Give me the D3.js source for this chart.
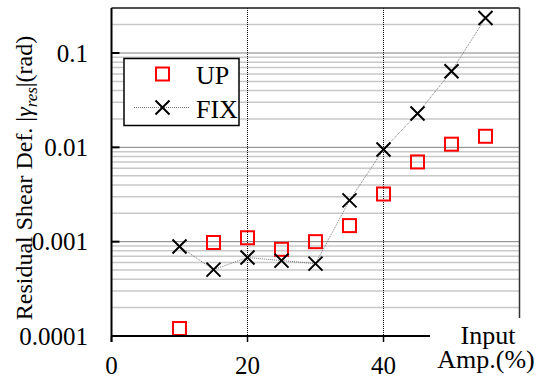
<!DOCTYPE html>
<html>
<head>
<meta charset="utf-8">
<script src="https://cdn.jsdelivr.net/npm/d3@7"></script>
<style>
  body { margin: 0; background: #fff; }
</style>
</head>
<body>
<script>
// input amplitude (%)
var amps = [10, 15, 20, 25, 30, 35, 40, 45, 50, 55];
// residual shear deformation (rad)
var upValues  = [0.00012, 0.00098, 0.0011, 0.00083, 0.001, 0.00148, 0.0032, 0.0070, 0.0108, 0.0131];
var fixValues = [0.00089, 0.000505, 0.00068, 0.00063, 0.000585, 0.00274, 0.0095, 0.0228, 0.064, 0.235];
var xTicks = [0, 20, 40];
var yTicks = [0.0001, 0.001, 0.01, 0.1];
var yTickLabels = ["0.0001", "0.001", "0.01", "0.1"];

const FONT = "'Liberation Serif', monospace";

const svg = d3.select("body").append("svg")
              .attr("width", 539)
              .attr("height", 380);

const x = d3.scaleLinear().domain([0, 60]).range([111.5, 519.5]);
const y = d3.scaleLog().domain([0.0001, 0.3]).range([336, 8]);

// minor grid (grey)
var minor = y.ticks().filter(function(v){
    return Math.abs(Math.log10(v) - Math.round(Math.log10(v))) > 1e-6;
});
svg.append("g").selectAll("line")
   .data(minor)
   .enter().append("line")
   .attr("x1", x(0)).attr("x2", x(60))
   .attr("y1", function(d){ return y(d) })
   .attr("y2", function(d){ return y(d) })
   .attr("stroke", "#c8c8c8")
   .attr("stroke-width", 1.5);

// major grid (black dotted)
svg.append("g").selectAll("line")
   .data(yTicks.slice(1))
   .enter().append("line")
   .attr("x1", x(0)).attr("x2", x(60))
   .attr("y1", function(d){ return y(d) })
   .attr("y2", function(d){ return y(d) })
   .attr("stroke", "#000")
   .attr("stroke-width", 1)
   .attr("stroke-dasharray", "1,1");

svg.append("g").selectAll("line")
   .data(xTicks.slice(1))
   .enter().append("line")
   .attr("x1", function(d){ return x(d) })
   .attr("x2", function(d){ return x(d) })
   .attr("y1", y(0.3)).attr("y2", y(0.0001))
   .attr("stroke", "#000")
   .attr("stroke-width", 1)
   .attr("stroke-dasharray", "1,1");

// frame
svg.append("line").attr("x1", x(0)).attr("x2", x(60)).attr("y1", y(0.3)).attr("y2", y(0.3))
   .attr("stroke", "#222").attr("stroke-width", 1.5);
svg.append("line").attr("x1", x(60)).attr("x2", x(60)).attr("y1", y(0.3)).attr("y2", y(0.0001))
   .attr("stroke", "#333").attr("stroke-width", 1.5);

// FIX dotted line
svg.append("path")
   .datum(amps)
   .attr("fill", "none")
   .attr("stroke", "#777")
   .attr("stroke-width", 1)
   .attr("stroke-dasharray", "1,1")
   .attr("d", d3.line()
       .x(function(d){ return x(d) })
       .y(function(d, i){ return y(fixValues[i]) }));

// UP squares
svg.append("g").selectAll("rect")
   .data(amps)
   .enter().append("rect")
   .attr("x", function(d){ return x(d) - 6.5 })
   .attr("y", function(d, i){ return y(upValues[i]) - 6.5 })
   .attr("width", 13).attr("height", 13)
   .attr("fill", "none")
   .attr("stroke", "#f00")
   .attr("stroke-width", 2);

// FIX crosses
var cross = "M-7,-7L7,7M-7,7L7,-7";
svg.append("g").selectAll("path")
   .data(amps)
   .enter().append("path")
   .attr("transform", function(d, i){ return "translate(" + x(d) + "," + y(fixValues[i]) + ")" })
   .attr("d", cross)
   .attr("stroke", "#000")
   .attr("stroke-width", 2);

// y axis
svg.append("line").attr("x1", x(0)).attr("x2", x(0)).attr("y1", y(0.3)).attr("y2", y(0.0001) + 6)
   .attr("stroke", "#000").attr("stroke-width", 2);
svg.append("g").selectAll("line")
   .data(yTicks)
   .enter().append("line")
   .attr("x1", x(0)).attr("x2", x(0) + 8)
   .attr("y1", function(d){ return y(d) })
   .attr("y2", function(d){ return y(d) })
   .attr("stroke", "#000").attr("stroke-width", 2);
svg.append("g").selectAll("text")
   .data(yTicks)
   .enter().append("text")
   .attr("x", 88)
   .attr("y", function(d){ return y(d) + 8.5 })
   .attr("text-anchor", "end")
   .attr("font-family", FONT)
   .attr("font-size", 25)
   .text(function(d, i){ return yTickLabels[i] });

// x axis (cut short by the label box)
svg.append("line").attr("x1", x(0)).attr("x2", 430).attr("y1", y(0.0001)).attr("y2", y(0.0001))
   .attr("stroke", "#000").attr("stroke-width", 2);
svg.append("g").selectAll("line")
   .data(xTicks)
   .enter().append("line")
   .attr("x1", function(d){ return x(d) })
   .attr("x2", function(d){ return x(d) })
   .attr("y1", y(0.0001)).attr("y2", y(0.0001) + 6)
   .attr("stroke", "#000").attr("stroke-width", 1.5);
svg.append("g").selectAll("text")
   .data(xTicks)
   .enter().append("text")
   .attr("x", function(d){ return x(d) })
   .attr("y", 374)
   .attr("text-anchor", "middle")
   .attr("font-family", FONT)
   .attr("font-size", 25)
   .text(function(d){ return d });

// x title with white box behind it
svg.append("rect").attr("x", 431).attr("y", 318).attr("width", 108).attr("height", 62).attr("fill", "#fff");
svg.append("text").attr("x", 488).attr("y", 344).attr("text-anchor", "middle")
   .attr("font-family", FONT).attr("font-size", 26).text("Input");
svg.append("text").attr("x", 486).attr("y", 368).attr("text-anchor", "middle")
   .attr("font-family", FONT).attr("font-size", 26).text("Amp.(%)");

// y title
const yt = svg.append("text")
   .attr("transform", "translate(32,178) rotate(-90)")
   .attr("text-anchor", "middle")
   .attr("font-family", FONT)
   .attr("font-size", 24);
yt.append("tspan").text("Residual Shear Def. |");
yt.append("tspan").attr("font-style", "italic").text("γ");
yt.append("tspan").attr("font-style", "italic").attr("font-size", 17).attr("dy", 5).text("res");
yt.append("tspan").attr("dy", -5).text("|(rad)");

// legend
const lg = svg.append("g");
lg.append("rect").attr("x", 124).attr("y", 58.5).attr("width", 115).attr("height", 67)
  .attr("fill", "#fff").attr("stroke", "#000").attr("stroke-width", 1.5);
lg.append("rect").attr("x", 156).attr("y", 67.5).attr("width", 13).attr("height", 13)
  .attr("fill", "none").attr("stroke", "#f00").attr("stroke-width", 2);
lg.append("text").attr("x", 196).attr("y", 83.5).attr("font-family", FONT).attr("font-size", 26).text("UP");
lg.append("line").attr("x1", 134).attr("x2", 190).attr("y1", 107.5).attr("y2", 107.5)
  .attr("stroke", "#777").attr("stroke-width", 1).attr("stroke-dasharray", "1,1");
lg.append("path").attr("transform", "translate(162.5,107.5)").attr("d", cross)
  .attr("stroke", "#000").attr("stroke-width", 2);
lg.append("text").attr("x", 196).attr("y", 117.5).attr("font-family", FONT).attr("font-size", 26).text("FIX");
</script>
</body>
</html>
